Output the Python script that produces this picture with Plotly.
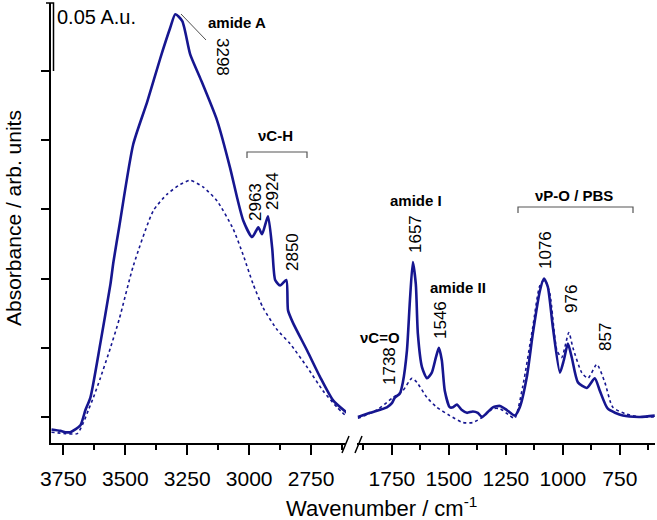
import plotly.graph_objects as go

# ---------------- data ----------------
# high-wavenumber region (left panel)
wn_hi_solid = [3798, 3762, 3742, 3722, 3702, 3681, 3661, 3641, 3601, 3560, 3548, 3524,
               3468, 3411, 3359, 3319, 3298, 3270, 3238, 3198, 3129, 3077, 3048, 3024,
               2988, 2963, 2948, 2924, 2907, 2895, 2875, 2850, 2843, 2823, 2766, 2714,
               2661, 2605]
abs_hi_solid = [-0.009, -0.010, -0.011, -0.011, -0.009, -0.006, 0.005, 0.014, 0.053, 0.096,
                0.112, 0.138, 0.197, 0.228, 0.259, 0.281, 0.291, 0.286, 0.262, 0.245,
                0.214, 0.180, 0.158, 0.142, 0.130, 0.137, 0.132, 0.145, 0.122, 0.099,
                0.095, 0.099, 0.077, 0.068, 0.048, 0.029, 0.012, 0.003]

wn_hi_dot = [3798, 3742, 3694, 3669, 3649, 3629, 3601, 3560, 3524, 3468, 3387, 3331, 3278,
             3238, 3185, 3129, 3065, 3024, 2984, 2944, 2887, 2835, 2766, 2702, 2645, 2605]
abs_hi_dot = [-0.011, -0.012, -0.012, -0.004, 0.005, 0.014, 0.028, 0.050, 0.071, 0.109,
              0.149, 0.161, 0.168, 0.171, 0.166, 0.156, 0.136, 0.117, 0.096, 0.079,
              0.063, 0.053, 0.036, 0.019, 0.007, 0.000]

# fingerprint region (right panel)
wn_lo_solid = [1899, 1846, 1772, 1750, 1737, 1715, 1702, 1684, 1671, 1658, 1645, 1636,
               1618, 1596, 1575, 1557, 1544, 1531, 1518, 1496, 1482, 1465, 1443, 1421,
               1395, 1373, 1355, 1333, 1307, 1276, 1246, 1211, 1189, 1158, 1132, 1101,
               1083, 1066, 1044, 1013, 996, 978, 961, 934, 895, 860, 838, 803, 737, 662,
               597]
abs_lo_solid = [0.000, 0.003, 0.007, 0.010, 0.014, 0.017, 0.025, 0.048, 0.084, 0.112,
                0.096, 0.060, 0.036, 0.028, 0.032, 0.043, 0.050, 0.041, 0.019, 0.007,
                0.007, 0.009, 0.005, 0.003, 0.004, 0.003, 0.000, 0.003, 0.007, 0.008,
                0.005, 0.001, 0.007, 0.029, 0.060, 0.091, 0.100, 0.094, 0.065, 0.032,
                0.041, 0.053, 0.043, 0.025, 0.021, 0.028, 0.019, 0.006, 0.001, 0.000,
                0.001]

wn_lo_dot = [1899, 1816, 1746, 1702, 1662, 1640, 1596, 1553, 1496, 1439, 1395, 1351, 1307,
             1276, 1233, 1211, 1176, 1132, 1101, 1079, 1057, 1026, 1005, 974, 956, 917,
             890, 851, 816, 781, 720, 662, 597]
abs_lo_dot = [-0.001, 0.005, 0.014, 0.019, 0.028, 0.025, 0.014, 0.007, 0.001, -0.004,
              -0.004, 0.000, 0.006, 0.006, 0.001, -0.001, 0.022, 0.065, 0.095, 0.099,
              0.089, 0.048, 0.043, 0.061, 0.050, 0.032, 0.028, 0.038, 0.025, 0.007,
              0.002, 0.000, 0.000]

y_ticks = [0, 0.05, 0.10, 0.15, 0.20, 0.25]
x_ticks_hi = [3750, 3500, 3250, 3000, 2750]
x_ticks_lo = [1750, 1500, 1250, 1000, 750]

# peak labels: (text, x px, y px, angle, size, bold)
labels = [
    ("3298", 222, 57, 90, 17, False),
    ("2963", 255, 202, -90, 17, False),
    ("2924", 272, 191, -90, 17, False),
    ("2850", 292, 252, -90, 17, False),
    ("1738", 389, 366, -90, 17, False),
    ("1657", 415, 234, -90, 17, False),
    ("1546", 440, 320, -90, 17, False),
    ("1076", 546, 250, -90, 17, False),
    ("976", 571, 299, -90, 17, False),
    ("857", 605, 337, -90, 17, False),
    ("amide A", 237, 23, 0, 15, True),
    ("νC-H", 275, 135, 0, 15, True),
    ("amide I", 416, 201, 0, 15, True),
    ("amide II", 458, 287, 0, 15, True),
    ("νC=O", 380, 337, 0, 15, True),
    ("νP-O / PBS", 574, 196, 0, 15, True),
]

# ---------------- figure ----------------
W, H = 657, 520
PL, PR, PT, PB = 51, 2, 3, 77
PW, PH = W - PL - PR, H - PT - PB


def px(x):
    return (x - PL) / PW


def py(y):
    return (PT + PH - y) / PH


FONT = "Liberation Sans, Arial, sans-serif"
NAVY = "#161690"

fig = go.Figure()
line_kw = dict(shape="spline", smoothing=0.6, color=NAVY)
fig.add_trace(go.Scatter(x=wn_hi_dot, y=abs_hi_dot, xaxis="x", yaxis="y", mode="lines",
                         line=dict(width=1.6, dash="dot", **line_kw)))
fig.add_trace(go.Scatter(x=wn_hi_solid, y=abs_hi_solid, xaxis="x", yaxis="y", mode="lines",
                         line=dict(width=2.6, **line_kw)))
fig.add_trace(go.Scatter(x=wn_lo_dot, y=abs_lo_dot, xaxis="x2", yaxis="y", mode="lines",
                         line=dict(width=1.6, dash="dot", **line_kw)))
fig.add_trace(go.Scatter(x=wn_lo_solid, y=abs_lo_solid, xaxis="x2", yaxis="y", mode="lines",
                         line=dict(width=2.6, **line_kw)))

xa = dict(showline=True, linewidth=2, linecolor="black", ticks="outside", ticklen=10,
          tickwidth=1.5, tickcolor="black", showgrid=False, zeroline=False,
          tickfont=dict(family=FONT, size=21, color="black"),
          minor=dict(dtick=125, ticks="outside", ticklen=5, tickwidth=1.5, tickcolor="black"),
          ticklabelstandoff=6)

fig.update_layout(
    width=W, height=H, margin=dict(l=PL, r=PR, t=PT, b=PB),
    paper_bgcolor="white", plot_bgcolor="white", showlegend=False,
    xaxis=dict(domain=[0, px(346)], range=[3800, 2609], tickvals=x_ticks_hi, anchor="y", **xa),
    xaxis2=dict(domain=[px(357), 1], range=[1903, 596], tickvals=x_ticks_lo, anchor="y", **xa),
    yaxis=dict(range=[-0.0188, 0.2991], tickvals=y_ticks, showticklabels=False,
               showline=True, linewidth=2, linecolor="black", ticks="outside", ticklen=8,
               tickwidth=1.5, tickcolor="black", showgrid=False, zeroline=False),
)

ann = []
for text, x, y, ang, size, bold in labels:
    ann.append(dict(text=f"<b>{text}</b>" if bold else text, x=px(x), y=py(y),
                    xref="paper", yref="paper", showarrow=False, textangle=ang,
                    xanchor="center", yanchor="middle",
                    font=dict(family=FONT, size=size, color="black")))
ann.append(dict(text="0.05 A.u.", x=px(55), y=py(17), xref="paper", yref="paper",
                showarrow=False, xanchor="left", yanchor="middle",
                font=dict(family=FONT, size=20, color="black")))
ann.append(dict(text="Wavenumber / cm<sup>-1</sup>", x=px(381), y=py(507), xref="paper",
                yref="paper", showarrow=False, xanchor="center", yanchor="middle",
                font=dict(family=FONT, size=22, color="black")))
ann.append(dict(text="Absorbance / arb. units", x=px(13), y=py(218), xref="paper",
                yref="paper", showarrow=False, textangle=-90, xanchor="center",
                yanchor="middle", font=dict(family=FONT, size=21, color="black")))
fig.update_layout(annotations=ann)

shapes = []
GRAY = "#555555"
# brackets
for x0, x1, yb in [(247, 307, 152), (518, 633, 207)]:
    shapes.append(dict(type="path", xref="paper", yref="paper",
                       path=f"M {px(x0)},{py(yb + 6)} L {px(x0)},{py(yb)} L {px(x1)},{py(yb)} L {px(x1)},{py(yb + 6)}",
                       line=dict(color=GRAY, width=1.2)))
# leader line for amide A
shapes.append(dict(type="line", xref="paper", yref="paper", x0=px(181), y0=py(14),
                   x1=px(206), y1=py(40), line=dict(color="#222222", width=0.8)))
# scale bar bracket
shapes.append(dict(type="path", xref="paper", yref="paper",
                   path=f"M {px(46)},{py(3)} L {px(53.5)},{py(3)} L {px(53.5)},{py(71)}",
                   line=dict(color="black", width=1.5)))
# axis break marks
for xc in [345.5, 358.5]:
    shapes.append(dict(type="line", xref="paper", yref="paper", x0=px(xc - 3.5), y0=py(453),
                       x1=px(xc + 3.5), y1=py(436), line=dict(color="black", width=1.5)))
fig.update_layout(shapes=shapes)

fig.write_html(
    "out.html",
    config={"displayModeBar": False},
    post_script="document.body.style.margin='0';document.body.style.padding='0';"
                "document.body.style.overflow='hidden';",
)
